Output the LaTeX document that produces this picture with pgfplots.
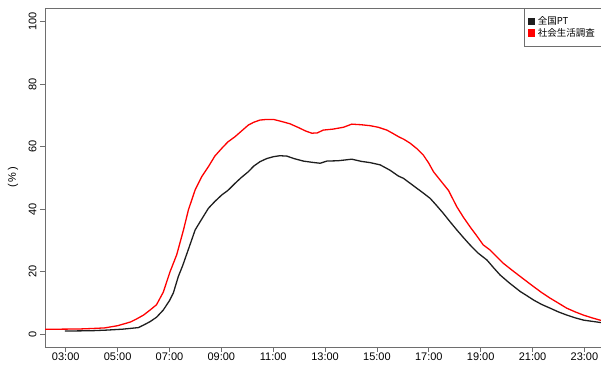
\documentclass[border=0pt]{standalone}
\usepackage{fontspec}
\setmainfont{Liberation Sans}
\newfontfamily\cjk{Noto Sans CJK JP}
\usepackage{pgfplots}
\pgfplotsset{compat=1.18}
\definecolor{axgray}{RGB}{110,110,110}
\definecolor{ptblack}{RGB}{30,30,30}
\definecolor{surveyred}{RGB}{255,0,0}
\pgfplotstableread{
t v
2.20 1.7
2.80 1.7
3.50 1.75
4.00 1.9
4.50 2.1
5.00 2.8
5.21 3.3
5.50 4.0
5.74 5.0
6.00 6.2
6.25 7.8
6.50 9.5
6.76 13.5
7.02 20.0
7.28 25.5
7.54 33.4
7.73 39.8
7.99 46.2
8.25 50.5
8.50 53.6
8.75 57.0
9.02 59.5
9.25 61.5
9.53 63.2
9.75 64.8
10.04 66.9
10.25 67.8
10.49 68.5
10.75 68.7
11.01 68.7
11.30 68.1
11.65 67.3
12.00 66.0
12.25 65.0
12.49 64.3
12.70 64.4
12.93 65.3
13.30 65.6
13.71 66.2
14.03 67.2
14.40 67.0
14.74 66.7
15.05 66.2
15.38 65.3
15.60 64.3
15.83 63.2
16.05 62.3
16.28 61.1
16.55 59.3
16.79 57.3
17.00 54.7
17.18 52.0
17.45 49.2
17.76 46.0
18.08 40.8
18.33 37.5
18.59 34.4
18.85 31.5
19.10 28.6
19.36 27.0
19.60 25.0
19.88 22.7
20.20 20.6
20.53 18.5
20.80 16.8
21.04 15.3
21.35 13.4
21.68 11.6
22.00 10.0
22.32 8.4
22.65 7.2
22.96 6.2
23.30 5.3
23.64 4.5
}\surveydata
\pgfplotstableread{
t v
2.97 1.1
3.50 1.15
4.00 1.2
4.58 1.4
5.20 1.7
5.80 2.2
6.00 3.0
6.25 4.1
6.50 5.5
6.76 7.8
7.00 10.8
7.15 13.3
7.34 18.5
7.50 21.8
7.67 25.8
7.99 33.4
8.18 36.0
8.50 40.3
8.75 42.5
9.02 44.6
9.25 46.0
9.53 48.3
9.75 50.0
10.04 52.0
10.25 53.8
10.49 55.2
10.75 56.2
11.01 56.8
11.25 57.1
11.52 57.0
11.80 56.2
12.16 55.4
12.50 55.0
12.81 54.7
13.07 55.4
13.50 55.5
14.03 56.0
14.40 55.3
14.74 54.9
15.12 54.2
15.50 52.5
15.83 50.6
16.02 49.9
16.28 48.3
16.54 46.7
16.80 45.1
17.05 43.5
17.30 41.2
17.56 38.7
17.82 36.0
18.08 33.4
18.33 31.0
18.59 28.6
18.90 26.0
19.24 23.8
19.50 21.3
19.75 19.0
20.10 16.5
20.53 13.7
20.80 12.3
21.04 11.0
21.35 9.6
21.68 8.4
22.00 7.2
22.32 6.2
22.65 5.3
22.96 4.6
23.30 4.2
23.64 3.8
}\ptdata
\begin{document}
\begin{tikzpicture}
\begin{axis}[
  at={(0,0)}, anchor=south west,
  scale only axis, width=556pt, height=339pt,
  xmin=2.2, xmax=23.64, ymin=-4, ymax=104.3,
  axis x line=box, axis y line=left,
  axis line style={-, draw=axgray, line width=0.8pt},
  xtick={3,5,7,9,11,13,15,17,19,21,23},
  xticklabels={03:00,05:00,07:00,09:00,11:00,13:00,15:00,17:00,19:00,21:00,23:00},
  ytick={0,20,40,60,80,100},
  xtick pos=left, ytick pos=left,
  tick align=outside, major tick length=5pt,
  tick style={draw=axgray, line width=0.8pt},
  /pgf/number format/assume math mode=true,
  ticklabel style={font=\fontsize{11}{12}\selectfont},
  xticklabel style={yshift=3pt},
  yticklabel style={rotate=90, anchor=south},
  ylabel={(\,\%\,)},
  ylabel style={at={([xshift=-32pt]axis description cs:0,0.5)}, anchor=center, font=\fontsize{11}{12}\selectfont},
  legend style={at={(1,1)}, anchor=north east, draw=axgray, fill=white,
    font=\cjk\fontsize{9.5}{11}\selectfont, inner xsep=3pt, inner ysep=7.5pt,
    nodes={inner xsep=3pt, inner ysep=1pt}, row sep=0pt, cells={anchor=west}},
  legend image code/.code={\fill[#1] (0pt,-3pt) rectangle (6pt,3pt);},
  clip=true,
]
\addplot[color=ptblack, line width=1.3pt] table[x=t,y=v] {\ptdata};
\addlegendentry{全国PT}
\addplot[color=surveyred, line width=1.3pt] table[x=t,y=v] {\surveydata};
\addlegendentry{社会生活調査}
\end{axis}
\pgfresetboundingbox
\path[use as bounding box] (-45pt,-17pt) rectangle (556pt,347pt);
\end{tikzpicture}
\end{document}
